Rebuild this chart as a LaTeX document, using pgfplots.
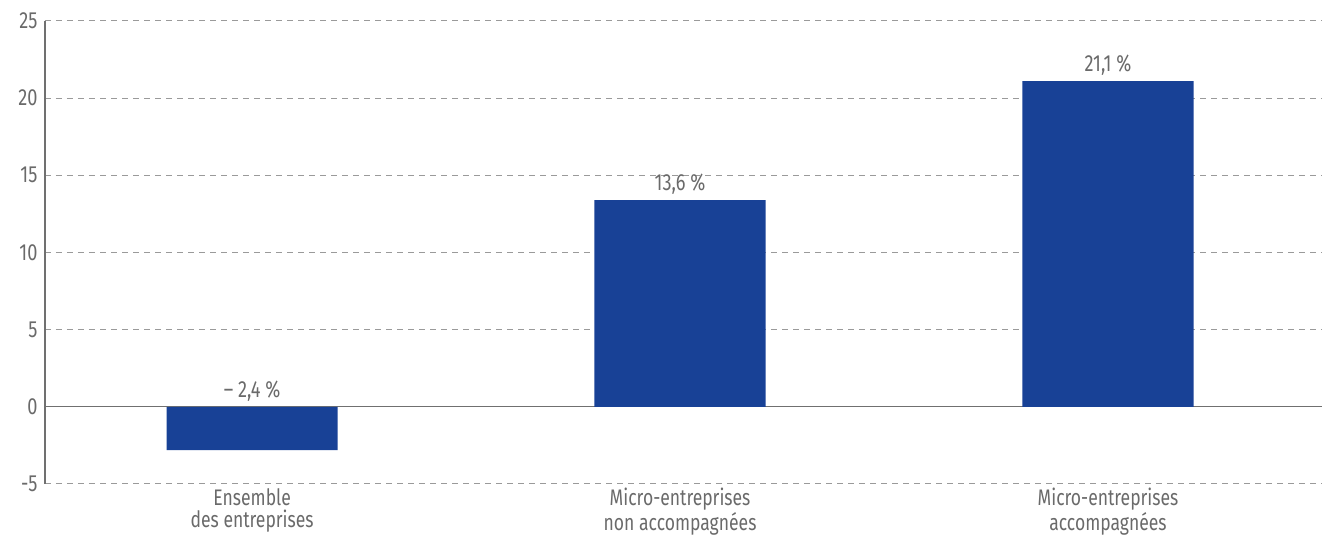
\documentclass[border=0pt]{standalone}
\usepackage{fontspec}
\setmainfont{Fira Sans}[FakeStretch=0.78]
\usepackage{pgfplots}
\pgfplotsset{compat=1.18}
\definecolor{barblue}{HTML}{184196}
\definecolor{txtgrey}{HTML}{6A6A6A}
\definecolor{axgrey}{HTML}{707070}
\definecolor{gridgrey}{HTML}{9A9A9A}
\begin{document}
\begin{tikzpicture}
\begin{axis}[
  at={(27pt,35.4pt)}, anchor=south west,
  scale only axis,
  width=766.2pt, height=277.8pt,
  xmin=-0.484, xmax=2.5,
  ymin=-5, ymax=25,
  ytick={-5,0,...,25},
  xtick={0,1,2},
  xticklabels={Ensemble\\des entreprises, Micro-entreprises\\non accompagnées, Micro-entreprises\\accompagnées},
  x tick label style={align=center, font=\fontsize{13.5}{13.5}\selectfont, text=txtgrey, yshift=1pt},
  y tick label style={font=\fontsize{14}{14}\selectfont, text=txtgrey, xshift=-1pt},
  /pgf/number format/assume math mode=true,
  major tick length=0pt,
  axis x line*=bottom,
  x axis line style={draw=none},
  axis y line*=left,
  y axis line style={draw=axgrey, line width=0.8pt, -},
  ymajorgrids,
  grid style={gridgrey, dash pattern=on 3.6pt off 3pt, line width=0.6pt},
  clip=false,
  extra y ticks={0},
  extra y tick labels={},
  extra y tick style={grid style={solid, axgrey, line width=0.8pt}},
]
\addplot[ybar, bar width=0.4, bar shift=0pt, fill=barblue, draw=none] coordinates {(0,-2.8) (1,13.4) (2,21.1)};
\addplot[draw=none, mark=none, nodes near coords, point meta=explicit symbolic,
  every node near coord/.style={anchor=south, font=\fontsize{14}{14}\selectfont, text=txtgrey, yshift=0pt}]
  coordinates {(0,0)[– 2,4 \%] (1,13.4)[13,6 \%] (2,21.1)[21,1 \%]};
\end{axis}
\pgfresetboundingbox
\path (0,0) rectangle (793.2pt,325.8pt);
\end{tikzpicture}
\end{document}
